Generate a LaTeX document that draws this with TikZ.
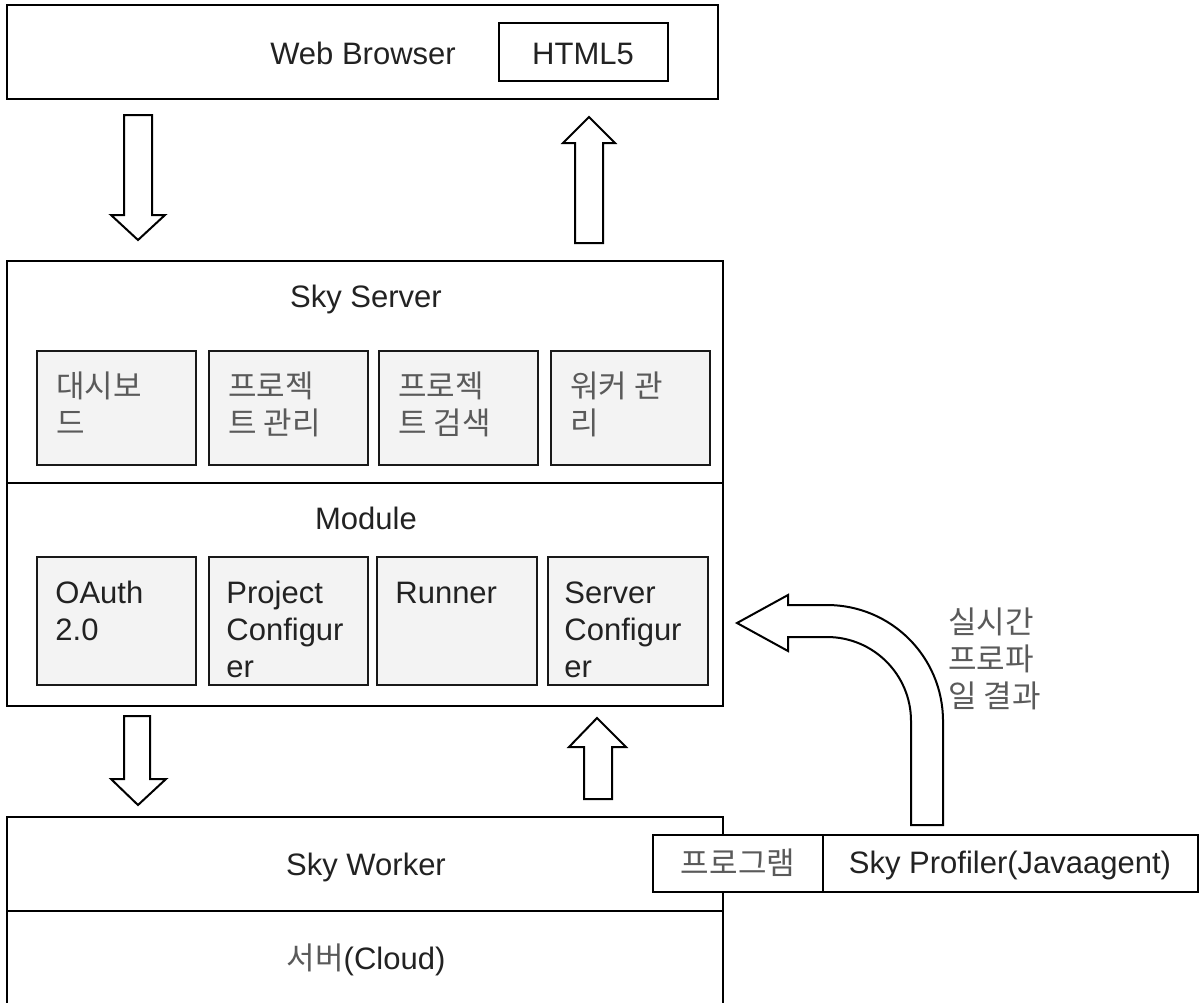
\documentclass[tikz,border=0pt]{standalone}
\usepackage{fontspec}
\setmainfont{Liberation Sans}
\newfontfamily\kr{Noto Sans CJK KR}
\newcommand\fs{\fontsize{15.5}{18.5}\selectfont}
\newcommand\twol[2]{\vtop{\hbox{#1}\hbox{#2}}}
\newcommand\threel[3]{\vtop{\hbox{#1}\hbox{#2}\hbox{#3}}}
\definecolor{boxfill}{HTML}{F3F3F3}
\definecolor{txt}{HTML}{222222}
\definecolor{krgray}{HTML}{5A5A5A}
\tikzset{
  ln/.style={line width=1pt, draw=black},
  inbox/.style={line width=1.2pt, draw=black!90, fill=boxfill},
  lbl/.style={inner sep=0pt, text=txt, anchor=base, font=\fs},
  lbll/.style={inner sep=0pt, text=txt, anchor=base west, font=\fs},
  krl/.style={inner sep=0pt, text=krgray, anchor=base west, font=\fs\kr},
  krc/.style={inner sep=0pt, text=krgray, anchor=base, font=\fs\kr},
  blockarrow/.style={line width=1pt, draw=black, fill=white, line join=miter},
}
\begin{document}
\begin{tikzpicture}[x=0.5pt,y=-0.5pt]
\useasboundingbox (0,0) rectangle (1202,1002);
\fill[white] (0,0) rectangle (1202,1002);

% Web Browser
\draw[ln] (7,5) rectangle (718,99);
\node[lbl] (wb) at (363,64) {Web Browser};
\draw[ln] (499,23) rectangle (668,81);
\node[lbl] (html) at (583,64) {HTML5};

% arrows between browser and server
\draw[blockarrow] (124,115) -- (152,115) -- (152,215) -- (165,215) -- (138,240)
  -- (111,215) -- (124,215) -- cycle;
\draw[blockarrow] (575,243) -- (603,243) -- (603,143) -- (615,143) -- (589,117)
  -- (563,143) -- (575,143) -- cycle;

% Sky Server / Module
\draw[ln] (7,261) rectangle (723,706);
\draw[ln] (7,483) -- (723,483);
\node[lbl] (sky) at (366,307) {Sky Server};
\node[lbl] (mod) at (366,529) {Module};

% top row boxes
\draw[inbox] (37,351) rectangle (196,465);
\draw[inbox] (209,351) rectangle (368,465);
\draw[inbox] (379,351) rectangle (538,465);
\draw[inbox] (551,351) rectangle (710,465);
\node[krl] (t1) at (56,397) {\twol{대시보}{드}};
\node[krl] (t2) at (228,397) {\twol{프로젝}{트 관리}};
\node[krl] (t3) at (398,397) {\twol{프로젝}{트 검색}};
\node[krl] (t4) at (570,397) {\twol{워커 관}{리}};

% bottom row boxes
\draw[inbox] (37,557) rectangle (196,685);
\draw[inbox] (209,557) rectangle (368,685);
\draw[inbox] (377,557) rectangle (537,685);
\draw[inbox] (548,557) rectangle (708,685);
\node[lbll] (m1) at (55,603) {\twol{OAuth}{2.0}};
\node[lbll] (m2) at (226,603) {\threel{Project}{Configur}{er}};
\node[lbll] (m3) at (395,603) {Runner};
\node[lbll] (m4) at (564,603) {\threel{Server}{Configur}{er}};

% arrows between server and worker
\draw[blockarrow] (124,716) -- (150,716) -- (150,779) -- (166,779) -- (138,805)
  -- (111,779) -- (124,779) -- cycle;
\draw[blockarrow] (584,799) -- (612,799) -- (612,747) -- (626,747) -- (597,718)
  -- (569,747) -- (584,747) -- cycle;

% Sky Worker
\draw[ln] (7,1010) -- (7,817) -- (723,817) -- (723,1010);
\draw[ln] (7,911) -- (723,911);
\node[lbl] (wk) at (366,875) {Sky Worker};
\node[lbl] (srv) at (366,969) {{\kr\color{krgray}서버}(Cloud)};

% Program / Profiler
\draw[ln, fill=white] (653,835) rectangle (823,892);
\node[krc] (prog) at (738,874) {프로그램};
\draw[ln, fill=white] (823,835) rectangle (1198,892);
\node[lbl] (prof) at (1010,873) {Sky Profiler(Javaagent)};

% curved arrow
\draw[blockarrow] (911,825) -- (911,721)
  .. controls (911,674.6) and (873.4,637) .. (827,637)
  -- (788,637) -- (788,651) -- (737,623) -- (788,595) -- (788,605) -- (827,605)
  .. controls (891.1,605) and (943,656.9) .. (943,721)
  -- (943,825) -- cycle;
\node[krl] (rt) at (948,633) {\threel{실시간}{프로파}{일 결과}};
\end{tikzpicture}
\end{document}
